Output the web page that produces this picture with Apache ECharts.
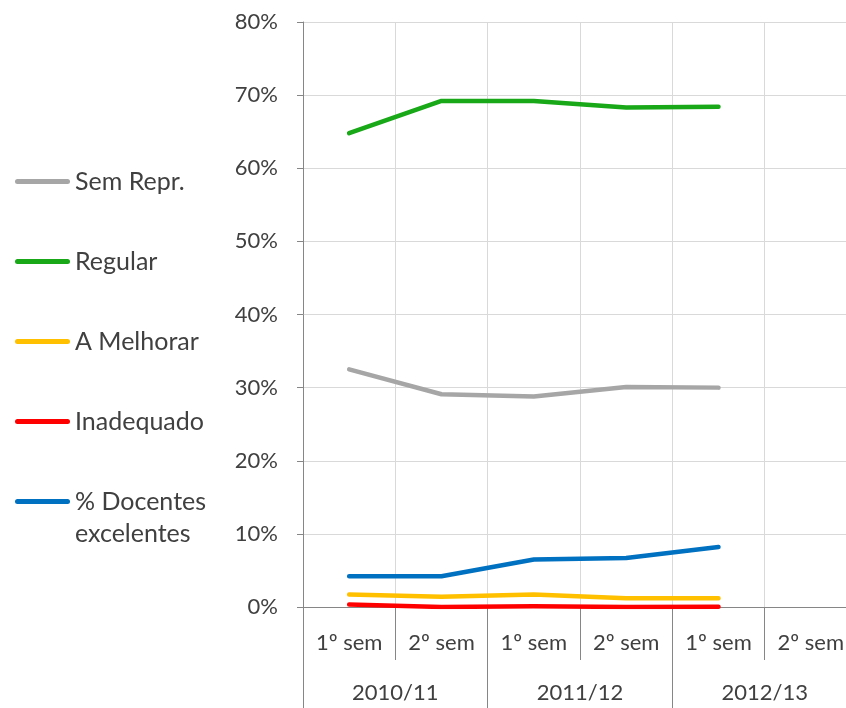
<!DOCTYPE html>
<html>
<head>
<meta charset="utf-8">
<script src="https://cdn.jsdelivr.net/npm/echarts@6/dist/echarts.min.js"></script>
<style>
html,body{margin:0;padding:0;background:#fff;}
#c{width:846px;height:708px;}
</style>
</head>
<body>
<div id="c"></div>
<script>
var semesters = ['1º sem','2º sem','1º sem','2º sem','1º sem','2º sem'];
var years = ['2010/11','2011/12','2012/13'];
var semRepr = [32.5, 29.1, 28.8, 30.1, 30.0, null];
var regular = [64.8, 69.2, 69.2, 68.3, 68.4, null];
var aMelhorar = [1.7, 1.4, 1.7, 1.2, 1.2, null];
var inadequado = [0.35, 0.0, 0.1, 0.0, 0.05, null];
var docentesExc = [4.2, 4.2, 6.5, 6.7, 8.2, null];
var yTicks = [0,10,20,30,40,50,60,70,80];

var FONT = 'Lato';
var TXT = '#404040';
var names = ['Sem Repr.','Regular','A Melhorar','Inadequado','% Docentes excelentes'];
var colors = ['#A6A6A6','#18A818','#FFC000','#FF0000','#0070C0'];
var datas = [semRepr, regular, aMelhorar, inadequado, docentesExc];

var chart = echarts.init(document.getElementById('c'));
var series = names.map(function(n,i){
  return {
    name: n, type: 'line', data: datas[i], symbol: 'none',
    xAxisIndex: 0, yAxisIndex: 0,
    lineStyle: {color: colors[i], width: 4.5, cap: 'round', join: 'round'},
    itemStyle: {color: colors[i]}
  };
});

var capsule = 'path://M2.5,0 H52.5 A2.5,2.5 0 0 1 52.5,5 H2.5 A2.5,2.5 0 0 1 2.5,0 Z';

chart.setOption({
  animation: false,
  backgroundColor: '#fff',
  textStyle: {fontFamily: FONT},
  grid: {left: 303, top: 22, width: 554, height: 585, containLabel: false, outerBoundsMode: 'none'},
  legend: {
    orient: 'vertical', left: 15, top: 169, padding: 0,
    icon: capsule,
    itemWidth: 55, itemHeight: 5, itemGap: 55,
    textStyle: {fontFamily: FONT, fontSize: 25, color: TXT, lineHeight: 25},
    data: names,
    formatter: function(n){ return n === '% Docentes excelentes' ? '% Docentes' : n; }
  },
  graphic: [{
    type: 'text', left: 75, top: 521,
    style: {text: 'excelentes', fontFamily: FONT, fontSize: 25, fill: TXT}
  }],
  xAxis: [
    {
      type: 'category', data: semesters, position: 'bottom', boundaryGap: true,
      axisLine: {show: true, lineStyle: {color: '#868686', width: 1}},
      axisTick: {show: true, interval: 0, length: 53, lineStyle: {color: '#868686'}},
      axisLabel: {interval: 0, margin: 25, fontSize: 22, color: TXT, fontFamily: FONT},
      splitLine: {show: true, interval: 0, lineStyle: {color: '#D9D9D9', width: 1}}
    },
    {
      type: 'category', data: years, position: 'bottom', boundaryGap: true,
      axisLine: {show: false},
      axisTick: {show: true, interval: 0, length: 101, lineStyle: {color: '#868686'}},
      axisLabel: {interval: 0, margin: 75, fontSize: 22, color: TXT, fontFamily: FONT},
      splitLine: {show: false}
    }
  ],
  yAxis: {
    type: 'value', min: yTicks[0], max: yTicks[yTicks.length-1], interval: 10,
    axisLine: {show: true, lineStyle: {color: '#868686'}},
    axisTick: {show: true, length: 6, lineStyle: {color: '#868686'}},
    axisLabel: {formatter: '{value}%', fontSize: 22, color: TXT, fontFamily: FONT, margin: 25},
    splitLine: {show: true, lineStyle: {color: '#D9D9D9', width: 1}}
  },
  series: series
});
</script>
</body>
</html>
